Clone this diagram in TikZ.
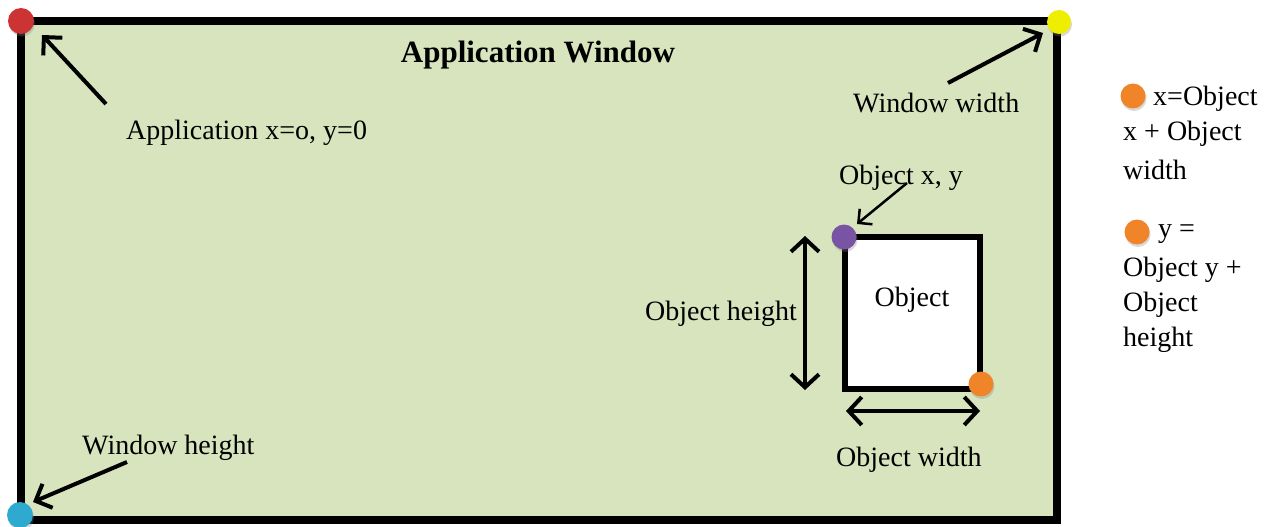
\documentclass[tikz,border=0pt]{standalone}
\usepackage{fontspec}
\setmainfont{Liberation Serif}
\usetikzlibrary{arrows.meta,shadows}
\definecolor{winfill}{RGB}{216,228,189}
\definecolor{dotred}{RGB}{204,52,52}
\definecolor{dotyellow}{RGB}{238,238,0}
\definecolor{dotblue}{RGB}{46,170,208}
\definecolor{dotpurple}{RGB}{122,84,164}
\definecolor{dotorange}{RGB}{240,132,40}
\tikzset{
  lbl/.style={inner sep=0pt, font=\fontsize{28}{35}\selectfont, anchor=west},
  dot/.style={circle, inner sep=0pt, minimum size=#1, draw=none,
    drop shadow={shadow xshift=1pt, shadow yshift=-2.5pt, opacity=0.3}},
  dot/.default=26pt,
  pointer/.style={line width=4pt, -{Straight Barb[length=13pt,width=26pt,line width=4pt]}},
  thinpointer/.style={line width=2.5pt, -{Straight Barb[length=10pt,width=20pt,line width=2.5pt]}},
  span/.style={line width=4pt, {Straight Barb[length=13pt,width=28pt,line width=4pt]}-{Straight Barb[length=13pt,width=28pt,line width=4pt]}},
}
\begin{document}
\begin{tikzpicture}[x=1pt,y=-1pt]
\useasboundingbox (0,0) rectangle (1270,527);

% application window
\draw[line width=8pt, fill=winfill, line join=miter] (20.5,21) rectangle (1057,520);
\node[lbl, anchor=center, font=\fontsize{31}{36}\selectfont\bfseries] (title) at (538,55) {Application Window};

% object box
\draw[line width=6pt, fill=white, line join=miter] (845,237) rectangle (980,389);
\node[lbl, anchor=center] (objtext) at (912,300) {Object};

% corner markers
\node[dot, fill=dotred] (origin) at (21,21) {};
\node[dot=24pt, fill=dotyellow] (wwidth) at (1059,22) {};
\node[dot, fill=dotblue] (wheight) at (20,515) {};
\node[dot=25pt, fill=dotpurple] (objxy) at (844,237) {};
\node[dot=25pt, fill=dotorange] (objend) at (981,384) {};

% labels
\node[lbl] (originlbl) at (126,133) {Application x=o, y=0};
\node[lbl] (wwidthlbl) at (853,103) {Window width};
\node[lbl] (wheightlbl) at (82,448) {Window height};
\node[lbl] (objxylbl) at (839,178) {Object x, y};
\node[lbl] (objhlbl) at (645,314) {Object height};
\node[lbl] (objwlbl) at (836,460) {Object width};

% pointer arrows
\coordinate (origintail) at (106,104);
\coordinate (origintip) at (42,35);
\draw[pointer] (origintail) -- (origintip);
\coordinate (wwidthtail) at (948,83);
\coordinate (wwidthtip) at (1043,33);
\draw[pointer] (wwidthtail) -- (wwidthtip);
\coordinate (wheighttail) at (127,462);
\coordinate (wheighttip) at (33,502);
\draw[pointer] (wheighttail) -- (wheighttip);
\coordinate (objxytail) at (907,183);
\coordinate (objxytip) at (857,224);
\draw[thinpointer] (objxytail) -- (objxytip);

% dimension arrows
\coordinate (htop) at (805,236);
\coordinate (hbot) at (805,390);
\draw[span] (htop) -- (hbot);
\coordinate (wleft) at (846,411);
\coordinate (wright) at (980,411);
\draw[span] (wleft) -- (wright);

% legend
\node[dot=25pt, fill=dotorange] (legx) at (1133,96) {};
\node[lbl] (legx1) at (1153,99) {x=Object};
\node[lbl] (legx2) at (1123,134) {x + Object};
\node[lbl] (legx3) at (1123,170) {width};
\node[dot=25pt, fill=dotorange] (legy) at (1137,232) {};
\node[lbl] (legy1) at (1158,234) {y =};
\node[lbl] (legy2) at (1123,270) {Object y +};
\node[lbl] (legy3) at (1123,305) {Object};
\node[lbl] (legy4) at (1123,340) {height};
\end{tikzpicture}
\end{document}
